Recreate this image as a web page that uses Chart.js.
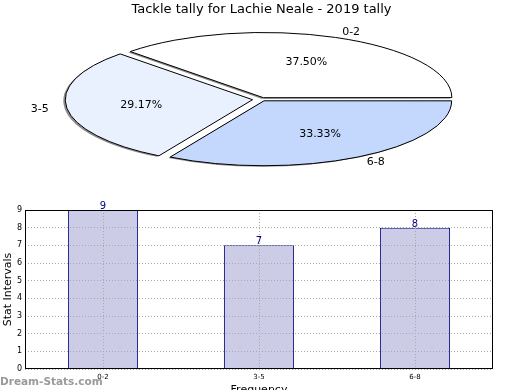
<!DOCTYPE html>
<html>
<head>
<meta charset="utf-8">
<script src="https://cdn.jsdelivr.net/npm/chart.js@4"></script>
<style>
  body { margin: 0; background: #fff; }
  #wrap { position: relative; width: 520px; height: 390px; }
  #pieChart { position: absolute; left: 0; top: 0; }
  #barChart { position: absolute; left: 0; top: 195px; }
</style>
</head>
<body>
<div id="wrap">
  <canvas id="pieChart" width="520" height="195"></canvas>
  <canvas id="barChart" width="520" height="195"></canvas>
</div>
<script>
const intervals = ['0-2', '3-5', '6-8'];
const tally = [9, 7, 8];
const yTicks = [0, 1, 2, 3, 4, 5, 6, 7, 8, 9];

const FONT = 'DejaVu Sans';
const squash = 0.346;   // pie drawn as a flat ellipse

// pie goes clockwise in Chart.js, the reference goes counter clockwise
const order = [2, 1, 0];
const pieColors = ['#ffffff', '#eaf1fe', '#c4d8fe'];
const pieOffsets = [20, 36, 20];

const total = tally.reduce((a, b) => a + b, 0);

const flatPie = {
  id: 'flatPie',
  beforeDatasetsDraw(chart) {
    const ctx = chart.ctx;
    const ca = chart.chartArea;
    const cy = (ca.top + ca.bottom) / 2;
    ctx.save();
    ctx.shadowColor = 'rgba(0,0,0,0.45)';
    ctx.shadowOffsetX = -2;
    ctx.shadowOffsetY = 1;
    ctx.translate(0, cy);
    ctx.scale(1, squash);
    ctx.translate(0, -cy);
    // keep outline 1px thick all round, no shadow on the outline
    const orig = ctx.stroke;
    ctx._origStroke = orig;
    ctx.stroke = function () {
      this.save();
      this.setTransform(1, 0, 0, 1, 0, 0);
      this.shadowColor = 'rgba(0,0,0,0)';
      orig.call(this);
      this.restore();
    };
  },
  afterDatasetsDraw(chart) {
    const ctx = chart.ctx;
    ctx.stroke = ctx._origStroke;
    ctx.restore();

    const meta = chart.getDatasetMeta(0);
    ctx.save();
    ctx.fillStyle = '#000';
    ctx.textBaseline = 'middle';
    meta.data.forEach((arc, j) => {
      const i = order[j];
      const a = (arc.startAngle + arc.endAngle) / 2;
      const r = arc.outerRadius;
      const o = (arc.options.offset || 0) / 4;
      const dx = Math.cos(a), dy = Math.sin(a);
      // category label
      const lx = arc.x + dx * (o + 1.1 * r);
      const ly = arc.y + dy * (o + 1.1 * r) * squash;
      ctx.font = '11px ' + FONT;
      ctx.textAlign = dx > 0 ? 'left' : 'right';
      ctx.fillText(intervals[i], lx, ly);
      // percentage
      const px = arc.x + dx * (o + 0.6 * r);
      const py = arc.y + dy * (o + 0.6 * r) * squash;
      ctx.textAlign = 'center';
      ctx.fillText((tally[i] / total * 100).toFixed(2) + '%', px, py);
    });
    ctx.restore();
  }
};

new Chart(document.getElementById('pieChart'), {
  type: 'pie',
  data: {
    labels: order.map(i => intervals[i]),
    datasets: [{
      data: order.map(i => tally[i]),
      backgroundColor: order.map(i => pieColors[i]),
      offset: order.map(i => pieOffsets[i]),
      borderColor: '#000',
      borderWidth: 1,
      radius: 187,
      clip: false
    }]
  },
  options: {
    responsive: false,
    animation: false,
    rotation: 90,
    layout: { padding: { left: 3, right: 0, top: 0, bottom: 14 } },
    plugins: {
      legend: { display: false },
      tooltip: { enabled: false },
      title: {
        display: true,
        text: 'Tackle tally for Lachie Neale - 2019 tally',
        color: '#000',
        font: { family: FONT, size: 13, weight: 'normal' },
        padding: { top: 2, bottom: 0 }
      }
    }
  },
  plugins: [flatPie]
});

const barExtras = {
  id: 'barExtras',
  afterDraw(chart) {
    const ctx = chart.ctx;
    const ca = chart.chartArea;
    ctx.save();
    ctx.strokeStyle = '#000';
    ctx.lineWidth = 1;
    ctx.strokeRect(Math.round(ca.left) + 0.5, Math.round(ca.top) + 0.5,
      Math.round(ca.width) - 1, Math.round(ca.height) - 1);

    ctx.fillStyle = '#00008b';
    ctx.font = '10px ' + FONT;
    ctx.textAlign = 'center';
    ctx.textBaseline = 'alphabetic';
    chart.getDatasetMeta(0).data.forEach((bar, i) => {
      ctx.fillText(String(tally[i]), bar.x, bar.y - 1);
    });

    ctx.fillStyle = '#9a9a9a';
    ctx.font = 'bold 10.5px ' + FONT;
    ctx.textAlign = 'left';
    ctx.fillText('Dream-Stats.com', 0, 189.5);
    ctx.restore();
  }
};

new Chart(document.getElementById('barChart'), {
  type: 'bar',
  data: {
    labels: intervals,
    datasets: [{
      data: tally,
      backgroundColor: '#ccccE6',
      borderColor: '#000080',
      borderWidth: 1,
      barPercentage: 0.45,
      categoryPercentage: 1
    }]
  },
  options: {
    responsive: false,
    animation: false,
    layout: { padding: { top: 15, right: 27, left: 0, bottom: 0 } },
    plugins: {
      legend: { display: false },
      tooltip: { enabled: false }
    },
    scales: {
      x: {
        afterFit(scale) { scale.height = 21; },
        grid: { offset: false, color: '#a8a8a8', drawTicks: false, z: 1 },
        border: { display: false, dash: [1, 2] },
        ticks: { color: '#000', font: { family: FONT, size: 7 }, padding: 4 },
        title: {
          display: true, text: 'Frequency', color: '#000',
          font: { family: FONT, size: 11 }, padding: { top: 0, bottom: -7 }
        }
      },
      y: {
        min: 0,
        max: 9,
        afterFit(scale) { scale.width = 25; },
        afterBuildTicks(scale) { scale.ticks = yTicks.map(v => ({ value: v })); },
        grid: { color: '#a8a8a8', drawTicks: false, z: 1 },
        border: { display: false, dash: [1, 2] },
        ticks: { color: '#000', font: { family: FONT, size: 8 }, padding: 3 },
        title: {
          display: true, text: 'Stat Intervals', color: '#000',
          font: { family: FONT, size: 11 }, padding: { top: 2, bottom: 0 }
        }
      }
    }
  },
  plugins: [barExtras]
});
</script>
</body>
</html>
